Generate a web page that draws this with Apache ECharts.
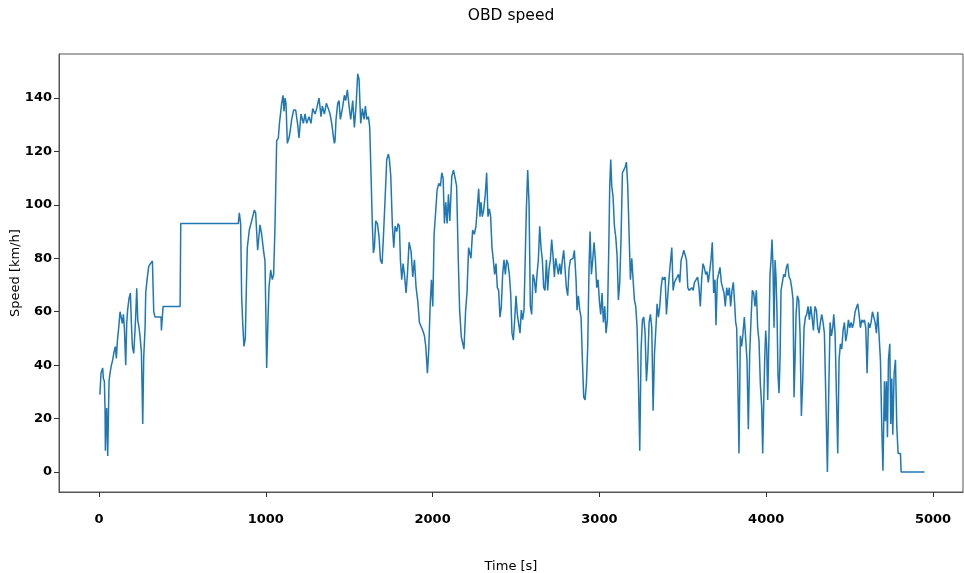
<!DOCTYPE html>
<html lang="en">
<head>
    <meta charset="UTF-8">
    <title>OBD speed</title>
    <script src="https://cdn.jsdelivr.net/npm/echarts@6/dist/echarts.min.js"></script>
</head>
<body style="margin: 0; background: #fff">
    <div id="chart" style="width: 964px; height: 573px"></div>
    <script>
        // tick positions
        var timeTicks = [0, 1000, 2000, 3000, 4000, 5000];
        var speedTicks = [0, 20, 40, 60, 80, 100, 120, 140];

        // [time s, speed km/h]
        var speedTrace = [
            [5, 29], [12, 37], [22, 39], [26, 35], [32, 34], [36, 24], [38, 8], [42, 18], [46, 24], [52, 6],
            [56, 20], [60, 34], [66, 37], [74, 40], [82, 42], [90, 45], [98, 47], [104, 42.5], [110, 49], [118, 54],
            [126, 60], [134, 60.6], [140, 55.6], [146, 59], [152, 54], [160, 40], [166, 55.6], [172, 61], [180, 65], [188, 67],
            [194, 55.6], [200, 47], [208, 44.4], [214, 51], [220, 58.6], [226, 68.8], [232, 57], [240, 54], [246, 50.6], [254, 45],
            [258, 32], [262, 18], [268, 43], [276, 54], [280, 67], [288, 72], [298, 77], [308, 78], [320, 79], [328, 60],
            [336, 58], [372, 58], [374, 53], [380, 53], [384, 62], [486, 62], [490, 93], [835, 93], [841, 97], [849, 93],
            // 850 - 1411
            [855, 66], [862, 55], [869, 47], [877, 50], [883, 68], [889, 84], [901, 90.6], [915, 94], [931, 98], [939, 97],
            [951, 83], [965, 92.5], [975, 89], [987, 82.5], [995, 79], [1000, 60], [1005, 39], [1012, 55], [1019, 69], [1029, 75.6],
            [1039, 72], [1047, 74], [1055, 92], [1065, 124], [1075, 125], [1081, 130], [1095, 138], [1103, 141], [1109, 135], [1115, 140],
            [1121, 138], [1129, 123], [1139, 125], [1147, 128], [1155, 132], [1167, 135.5], [1179, 135.5], [1191, 130], [1199, 125], [1211, 134],
            [1225, 130.5], [1235, 134], [1245, 130.5], [1259, 133], [1271, 130.5], [1281, 136], [1295, 134], [1305, 136], [1319, 140], [1331, 133],
            [1339, 137], [1351, 134], [1363, 138], [1375, 136], [1385, 134], [1395, 130.5], [1405, 125.5], [1411, 123],
            // 1415 - 2135
            [1415, 124], [1421, 132], [1431, 138], [1439, 139], [1447, 132], [1459, 136], [1471, 141], [1479, 139], [1489, 143], [1499, 137],
            [1509, 132], [1521, 139], [1531, 129], [1541, 137], [1551, 149], [1559, 147], [1569, 130.5], [1579, 136], [1589, 132], [1597, 137],
            [1605, 132], [1615, 133], [1623, 129], [1631, 110.6], [1639, 92], [1645, 82], [1651, 84], [1659, 94], [1669, 93], [1679, 88],
            [1687, 79.4], [1697, 78], [1705, 88], [1715, 102], [1725, 117], [1735, 119], [1741, 117], [1749, 111], [1759, 92], [1767, 84],
            [1775, 92], [1785, 90], [1793, 93], [1801, 92], [1807, 79.4], [1815, 72], [1823, 78], [1831, 74], [1841, 67], [1849, 74],
            [1859, 86], [1871, 82.5], [1881, 73], [1891, 79.4], [1901, 69], [1911, 64], [1921, 56], [1931, 56.5], [1941, 53], [1951, 51],
            [1959, 47], [1969, 37], [1977, 46], [1985, 62], [1993, 72], [2001, 62], [2009, 89], [2019, 98], [2027, 105.6], [2037, 108],
            [2047, 107], [2055, 112], [2063, 110], [2071, 93], [2079, 101], [2087, 93], [2095, 104], [2103, 94], [2115, 110.6], [2125, 113],
            [2135, 110],
            // 2144 - 2850
            [2144, 107], [2154, 79.4], [2162, 60.6], [2172, 50.6], [2180, 51], [2188, 46], [2198, 60.6], [2206, 67], [2216, 84], [2224, 84],
            [2230, 80], [2240, 90.6], [2250, 89], [2260, 92], [2268, 99], [2276, 106], [2284, 95.6], [2290, 101], [2298, 95.6], [2306, 98],
            [2316, 104], [2324, 112], [2332, 95.6], [2340, 98.5], [2348, 95.6], [2356, 84], [2364, 79.4], [2372, 74], [2380, 78], [2388, 69],
            [2396, 68], [2404, 58], [2412, 62], [2420, 74], [2428, 79.4], [2436, 74], [2444, 79.4], [2452, 78], [2460, 74], [2468, 67],
            [2476, 52], [2484, 49.4], [2492, 57], [2500, 66], [2508, 59], [2516, 59], [2524, 52], [2532, 60.6], [2540, 57], [2548, 60.6],
            [2556, 60.6], [2562, 98], [2570, 113], [2578, 101], [2586, 62], [2594, 59], [2602, 74], [2610, 72], [2618, 67], [2626, 74],
            [2634, 79.4], [2642, 92], [2650, 84], [2658, 79.4], [2666, 69], [2674, 68], [2682, 79.4], [2690, 68], [2698, 76], [2706, 79.4],
            [2714, 87], [2722, 81], [2730, 73], [2738, 80], [2746, 79.4], [2754, 74], [2762, 78], [2770, 74], [2778, 79.4], [2786, 83],
            [2794, 76], [2802, 69], [2810, 66], [2818, 76], [2826, 79.4], [2834, 79.4], [2842, 80], [2850, 83],
            // 2860 - 3570
            [2860, 72], [2866, 60.6], [2874, 66], [2882, 60.6], [2890, 58], [2898, 42], [2906, 28], [2914, 27], [2922, 33], [2930, 47],
            [2938, 77], [2944, 90], [2952, 74], [2960, 79.4], [2968, 86], [2976, 79.4], [2984, 69], [2992, 72], [3000, 64], [3008, 59],
            [3016, 67], [3024, 56], [3032, 62], [3040, 52], [3048, 57], [3056, 83], [3062, 107], [3068, 117], [3074, 107], [3082, 103],
            [3090, 92], [3098, 88], [3106, 81], [3114, 64.4], [3122, 71], [3130, 88], [3138, 112], [3146, 113], [3154, 114], [3162, 116],
            [3170, 107], [3178, 89], [3186, 72], [3194, 80], [3202, 72], [3210, 64.4], [3218, 62], [3226, 54], [3234, 34], [3242, 8],
            [3250, 46], [3258, 57], [3266, 58], [3274, 52], [3282, 34], [3290, 42], [3298, 56], [3306, 59], [3314, 54], [3322, 23],
            [3330, 44], [3338, 53], [3346, 63], [3354, 58], [3362, 62], [3370, 69], [3378, 73], [3386, 72], [3394, 73], [3402, 59],
            [3410, 66], [3418, 73], [3426, 73], [3434, 84], [3442, 68], [3450, 71], [3458, 72], [3466, 73], [3474, 74], [3482, 71],
            [3490, 79.4], [3498, 81], [3506, 83], [3514, 82.5], [3522, 79.4], [3530, 69], [3538, 68], [3546, 68], [3554, 69], [3562, 68],
            [3570, 71],
            // 3581 - 4289
            [3581, 71], [3589, 73], [3597, 69], [3605, 62], [3613, 72], [3621, 78], [3629, 76.6], [3637, 74], [3645, 75], [3653, 71],
            [3661, 75], [3669, 79.4], [3677, 86], [3685, 67], [3693, 72], [3699, 55], [3707, 72], [3715, 72], [3723, 76.6], [3731, 71],
            [3739, 71], [3747, 67], [3755, 62], [3763, 69], [3771, 66], [3779, 69], [3787, 62], [3795, 68], [3803, 71], [3811, 63],
            [3817, 56], [3823, 54], [3829, 37], [3837, 7], [3845, 51], [3853, 47], [3861, 52], [3869, 58], [3877, 58], [3885, 42],
            [3893, 16], [3901, 44], [3909, 57], [3917, 68], [3925, 67], [3933, 62], [3941, 68], [3949, 54], [3957, 49], [3965, 33],
            [3973, 24.5], [3979, 7], [3985, 25], [3991, 42], [3997, 53], [4003, 47], [4009, 27], [4017, 52], [4023, 74], [4029, 79.4],
            [4035, 87], [4041, 76.6], [4047, 54], [4053, 79.4], [4059, 73], [4065, 59], [4071, 36], [4077, 29.5], [4083, 42], [4089, 68],
            [4097, 71], [4105, 74], [4113, 73], [4121, 76.6], [4129, 78], [4137, 73], [4145, 72], [4153, 69], [4161, 64.4], [4167, 28],
            [4173, 42], [4179, 59], [4187, 66], [4195, 64.4], [4203, 52], [4211, 21], [4219, 34], [4227, 54], [4235, 58], [4243, 59],
            [4251, 62], [4259, 57], [4267, 62], [4275, 58], [4283, 53], [4289, 59],
            // 4293 - end
            [4293, 62], [4301, 60.6], [4309, 54], [4317, 52], [4325, 56], [4333, 59], [4341, 56], [4349, 52], [4357, 29.5], [4367, 0],
            [4375, 29.5], [4383, 56], [4391, 51], [4399, 54], [4405, 59], [4413, 52], [4421, 29.5], [4429, 7], [4437, 42], [4445, 48],
            [4453, 46], [4461, 53], [4469, 56], [4477, 49], [4485, 52], [4493, 57], [4501, 54], [4509, 56], [4517, 54], [4525, 56],
            [4533, 60], [4541, 60.6], [4549, 63], [4557, 59], [4565, 54], [4573, 57], [4581, 56], [4589, 57], [4597, 54], [4605, 37],
            [4613, 56], [4621, 54], [4629, 56], [4637, 60], [4645, 58], [4653, 56], [4661, 52], [4669, 60], [4677, 60], [4685, 42],
            [4693, 17], [4700, 0.5], [4709, 34], [4715, 19], [4721, 34], [4727, 13], [4733, 42], [4741, 48], [4747, 18], [4753, 35],
            [4759, 14], [4767, 37], [4775, 42], [4783, 17], [4791, 7], [4799, 7], [4805, 7], [4809, 0], [4817, 0], [4949, 0]
        ];

        var myChart = echarts.init(document.getElementById('chart'));

        var labelFont = 'DejaVu Sans';

        var option = {
            animation: false,
            title: {
                text: 'OBD speed',
                left: 511,
                top: 8,
                padding: 0,
                textAlign: 'center',
                textStyle: {
                    fontFamily: labelFont,
                    fontSize: 15.5,
                    fontWeight: 'normal',
                    color: '#000'
                }
            },
            grid: {
                left: 59,
                top: 54,
                right: 1,
                bottom: 81,
                containLabel: false,
                outerBoundsMode: 'none',
                show: true,
                borderColor: '#555',
                borderWidth: 1
            },
            xAxis: {
                type: 'value',
                min: -240,
                max: 5180,
                name: 'Time [s]',
                nameLocation: 'middle',
                nameGap: 68,
                nameTextStyle: { fontFamily: labelFont, fontSize: 13, color: '#000' },
                axisLine: { show: true, onZero: false, lineStyle: { color: '#555', width: 1 } },
                axisTick: {
                    show: true,
                    length: 5,
                    customValues: timeTicks,
                    lineStyle: { color: '#333' }
                },
                axisLabel: {
                    customValues: timeTicks,
                    margin: 21,
                    formatter: function (v) { return String(v); },
                    fontFamily: labelFont,
                    fontSize: 13,
                    fontWeight: 'bold',
                    color: '#000'
                },
                splitLine: { show: false }
            },
            yAxis: {
                type: 'value',
                min: -7.45,
                max: 156.45,
                name: 'Speed [km/h]',
                nameLocation: 'middle',
                nameRotate: 90,
                nameGap: 37,
                nameMoveOverlap: false,
                nameTextStyle: { fontFamily: labelFont, fontSize: 13, color: '#000' },
                axisLine: { show: true, onZero: false, lineStyle: { color: '#555', width: 1 } },
                axisTick: {
                    show: true,
                    length: 5,
                    customValues: speedTicks,
                    lineStyle: { color: '#333' }
                },
                axisLabel: {
                    customValues: speedTicks,
                    margin: 7,
                    formatter: function (v) { return String(v); },
                    fontFamily: labelFont,
                    fontSize: 13,
                    fontWeight: 'bold',
                    color: '#000'
                },
                splitLine: { show: false }
            },
            series: [{
                name: 'speed',
                type: 'line',
                data: speedTrace,
                showSymbol: false,
                symbol: 'none',
                lineStyle: { color: '#1f77b4', width: 1.5 },
                z: 3
            }]
        };

        myChart.setOption(option);
    </script>
</body>
</html>
